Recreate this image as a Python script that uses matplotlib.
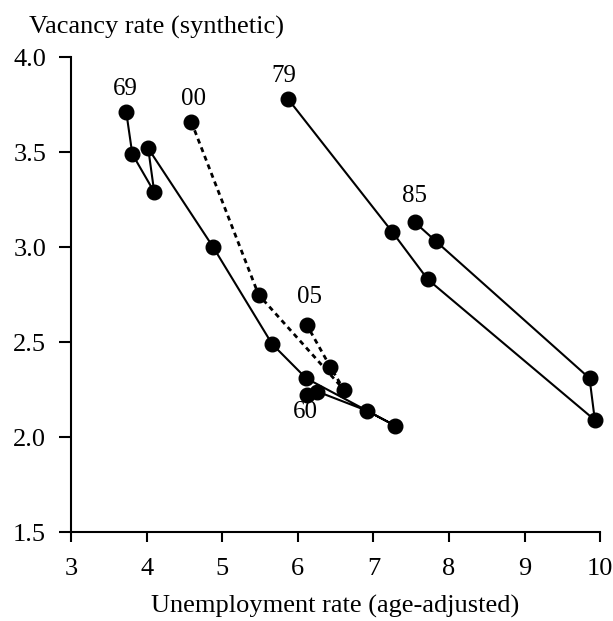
import matplotlib
matplotlib.use("Agg")
import matplotlib.pyplot as plt

plt.rcParams['font.family'] = ['Liberation Serif', 'DejaVu Serif']

# 1960s loop (solid), labelled at 60 and 69
u_60s = [6.12, 6.26, 6.91, 7.29, 6.11, 5.66, 4.88, 4.02, 4.10, 3.81, 3.73]
v_60s = [2.22, 2.24, 2.14, 2.06, 2.31, 2.49, 3.00, 3.52, 3.29, 3.49, 3.71]

# 1979-85 loop (solid)
u_80s = [5.87, 7.25, 7.72, 9.93, 9.86, 7.83, 7.55]
v_80s = [3.78, 3.08, 2.83, 2.09, 2.31, 3.03, 3.13]

# 2000-05 (dashed)
u_00s = [4.59, 5.48, 6.61, 6.43, 6.12]
v_00s = [3.66, 2.75, 2.25, 2.37, 2.59]

labels = ["60", "69", "79", "85", "00", "05"]
label_x = [6.10, 3.72, 5.81, 7.54, 4.62, 6.16]
label_y = [2.13, 3.83, 3.90, 3.27, 3.78, 2.74]

fig = plt.figure(figsize=(6.13, 6.21), dpi=100)
ax = fig.add_axes([0.116, 0.143, 0.863, 0.765])

style = dict(color='black', marker='o', markersize=10.5, clip_on=False)
ax.plot(u_60s, v_60s, linewidth=1.5, **style)
ax.plot(u_80s, v_80s, linewidth=1.5, **style)
ax.plot(u_00s, v_00s, linewidth=2.0, linestyle=(0, (1.8, 1.5)), **style)

for t, x, y in zip(labels, label_x, label_y):
  ax.text(x, y, t, fontsize=18, ha='center', va='center')

ax.set_xlim(3, 10)
ax.set_ylim(1.5, 4.0)
ax.set_xticks(range(3, 11))
ax.set_yticks([1.5, 2.0, 2.5, 3.0, 3.5, 4.0])
ax.set_yticklabels(["1.5", "2.0", "2.5", "3.0", "3.5", "4.0"])
ax.spines['top'].set_visible(False)
ax.spines['right'].set_visible(False)
ax.spines['left'].set_linewidth(1.5)
ax.spines['bottom'].set_linewidth(1.5)
ax.tick_params(axis='x', direction='out', length=7.5, width=1.5, pad=11, labelsize=19)
ax.tick_params(axis='y', direction='out', length=9, width=1.5, pad=9, labelsize=19)

fig.text(0.256, 0.955, "Vacancy rate (synthetic)", fontsize=19, ha='center', va='center')
fig.text(0.546, 0.024, "Unemployment rate (age-adjusted)", fontsize=19, ha='center', va='center')

fig.savefig("out.png", dpi=100)
